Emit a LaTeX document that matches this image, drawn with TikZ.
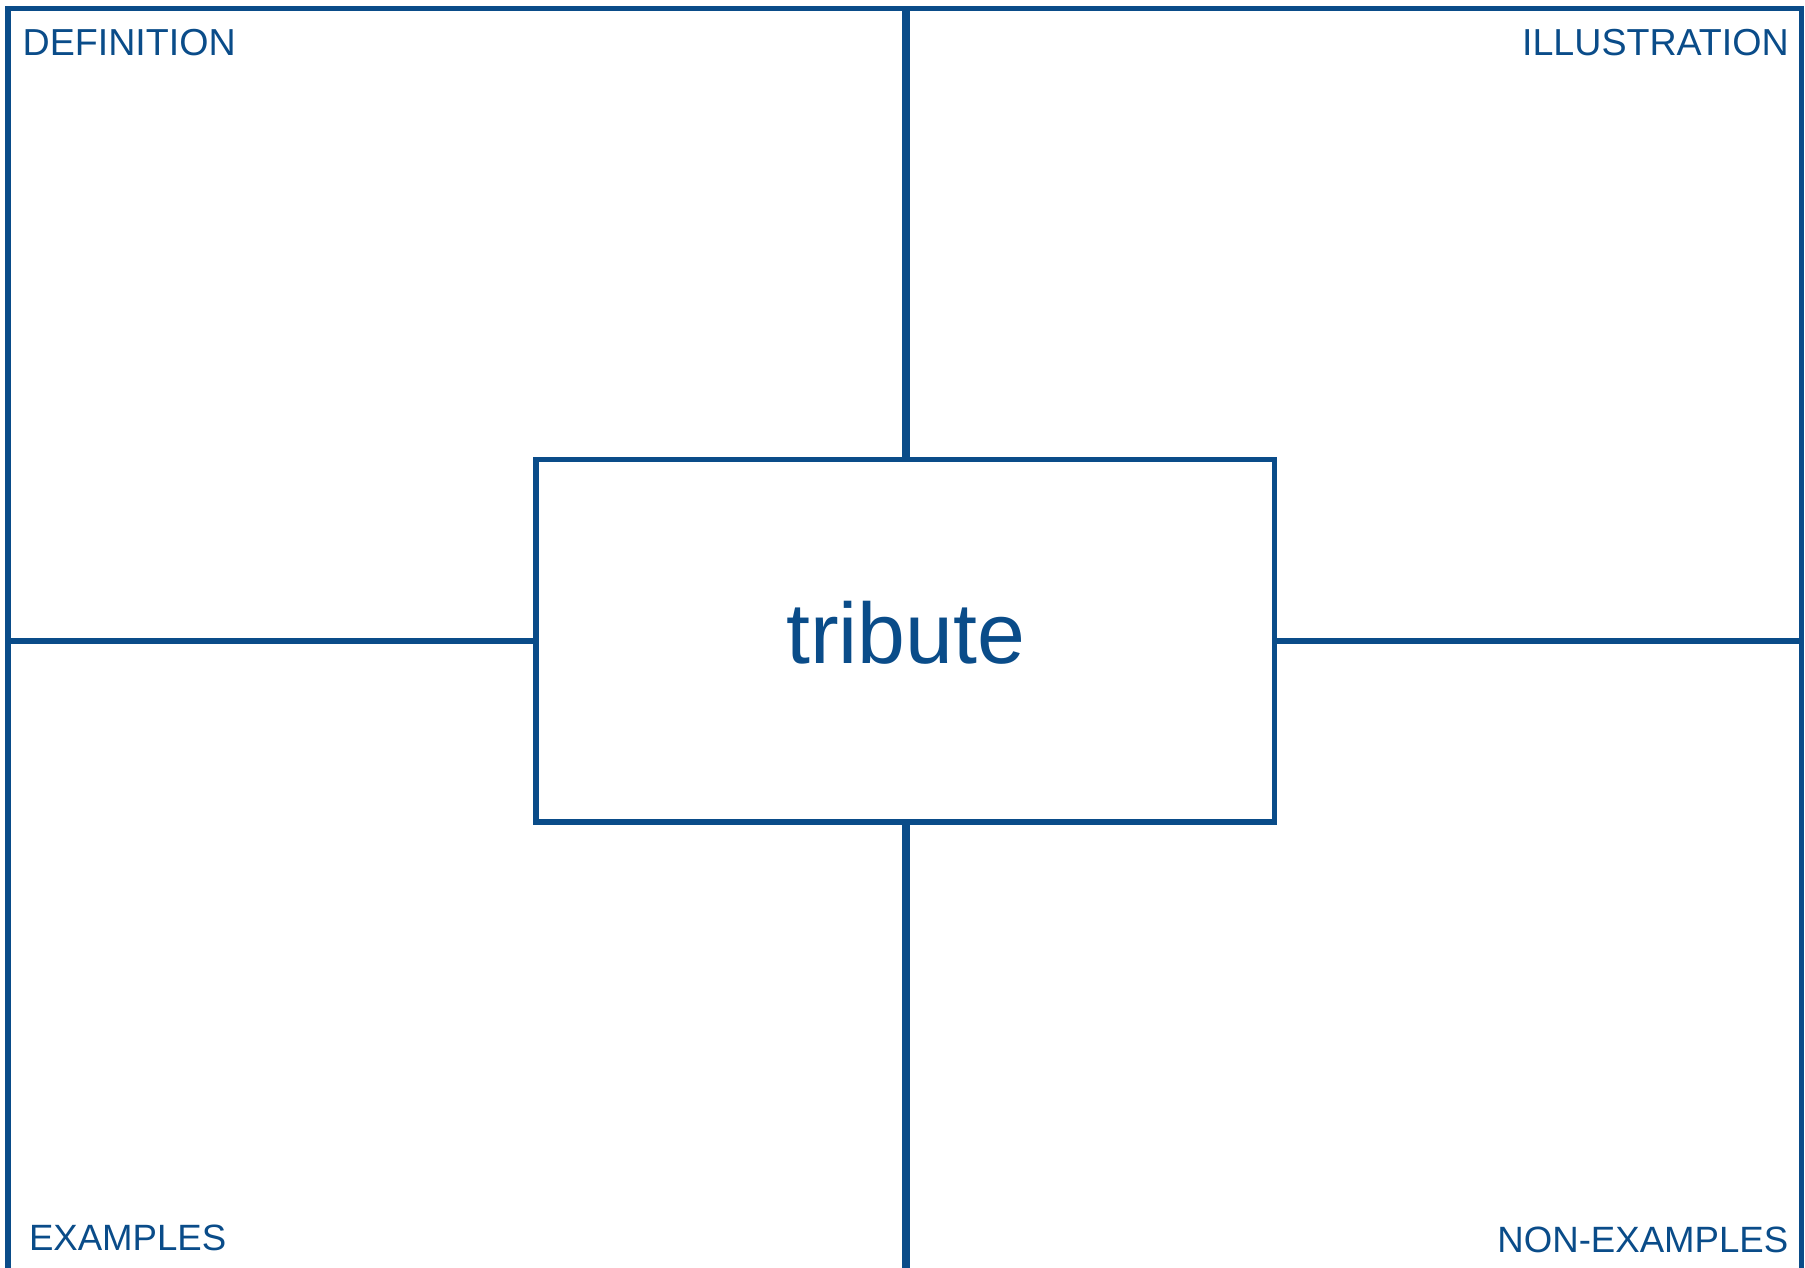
\documentclass[tikz,border=0pt]{standalone}
\usepackage{fontspec}
\setmainfont{Liberation Sans}
\definecolor{frameblue}{RGB}{10,76,137}
\begin{document}
\begin{tikzpicture}[x=1pt,y=-1pt,
  frameline/.style={draw=frameblue,line width=5.5pt},
  midline/.style={draw=frameblue,line width=8pt},
  label/.style={text=frameblue,font=\fontsize{37.6}{42}\selectfont,inner sep=0pt},
  smalllabel/.style={text=frameblue,font=\fontsize{36.6}{41}\selectfont,inner sep=0pt},
  centerbox/.style={draw=frameblue,line width=5.5pt,minimum width=738.7pt,minimum height=362.5pt,inner sep=0pt}]
\useasboundingbox (0,0) rectangle (1805,1267);
% outer frame corners
\coordinate (tl) at (8,8.5);
\coordinate (tr) at (1801.5,8.5);
\coordinate (bl) at (8,1275);
\coordinate (br) at (1801.5,1275);
\draw[frameline,line join=miter] (bl) -- (tl) -- (tr) -- (br);
% centre box
\node[centerbox] (center) at (905.35,640.75) {};
\node[text=frameblue,font=\fontsize{86}{92}\selectfont,inner sep=0pt,anchor=base] (word) at (905.7,663.5) {tribute};
% connectors
\coordinate (topmid) at (906,8.5);
\coordinate (botmid) at (906,1275);
\coordinate (leftmid) at (8,641);
\coordinate (rightmid) at (1801.5,641);
\draw[midline] (topmid) -- (topmid |- center.north);
\draw[midline] (botmid |- center.south) -- (botmid);
\draw[frameline] (leftmid) -- (center.west |- leftmid);
\draw[frameline] (center.east |- rightmid) -- (rightmid);
% labels
\node[label,anchor=base west] (def) at (22.5,55) {DEFINITION};
\node[label,anchor=base east] (ill) at (1789,55) {ILLUSTRATION};
\node[smalllabel,anchor=base west] (ex) at (28.8,1250) {EXAMPLES};
\node[smalllabel,anchor=base east] (nonex) at (1788.5,1252) {NON-EXAMPLES};
\end{tikzpicture}
\end{document}
